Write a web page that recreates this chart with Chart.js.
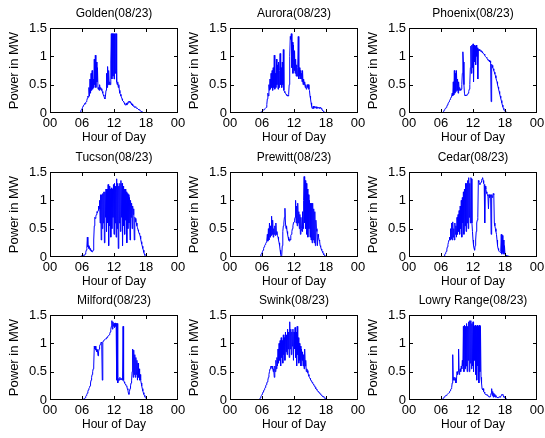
<!DOCTYPE html>
<html>
<head>
  <title>Power in MW by site</title>
  <meta charset="UTF-8">
  <script src="https://cdn.jsdelivr.net/npm/chart.js"></script>
  <style>
    body {
      margin: 0;
      background: #fff;
    }

    #wrap {
      position: relative;
      width: 545px;
      height: 438px;
      overflow: hidden;
    }

    #wrap canvas {
      position: absolute;
    }
  </style>
</head>
<body>
  <div id="wrap"></div>

  <script>
    const sites = ['Golden', 'Aurora', 'Phoenix', 'Tucson', 'Prewitt', 'Cedar', 'Milford', 'Swink', 'Lowry Range'];
    const dayLabel = '(08/23)';
    const hourTicks = [0, 6, 12, 18, 24];
    const hourLabels = ['00', '06', '12', '18', '00'];
    const powerTicks = [0, 0.5, 1, 1.5];

    // samples every 0.1 h, first sample at the start hour of each site
    const sampleStep = 0.1;
    const startHours = [5.6, 5.6, 6.2, 5.6, 5.6, 6.5, 5.8, 5.5, 6.1];

    const golden = [0, 0.02, 0.04, 0.06, 0.08, 0.1, 0.12, 0.14, 0.15, 0.17,
      0.16, 0.19, 0.2, 0.22, 0.26, 0.3, 0.28, 0.45, 0.3, 0.6,
      0.35, 0.7, 0.4, 0.75, 0.42, 0.6, 0.45, 0.95, 0.5, 1.02,
      0.45, 0.9, 0.55, 0.8, 0.42, 0.45, 0.4, 0.5, 0.42, 0.45,
      0.4, 0.43, 0.38, 0.35, 0.32, 0.3, 0.27, 0.25, 0.3, 0.4,
      0.7, 0.45, 0.82, 0.5, 0.75, 0.5, 0.55, 0.5, 0.9, 1.4,
      0.6, 1.4, 0.65, 1.4, 0.6, 1.4, 0.7, 1.4, 1.4, 0.55,
      0.5, 0.55, 0.45, 0.5, 0.4, 0.35, 0.33, 0.3, 0.28, 0.25,
      0.22, 0.21, 0.2, 0.18, 0.16, 0.14, 0.15, 0.17, 0.14, 0.18,
      0.17, 0.2, 0.19, 0.21, 0.18, 0.2, 0.17, 0.15, 0.16, 0.13,
      0.12, 0.13, 0.11, 0.1, 0.11, 0.1, 0.09, 0.08, 0.08, 0.07,
      0.06, 0.06, 0.05, 0.04, 0.04, 0.03, 0.03, 0.02, 0.02, 0.01,
      0.01, 0, 0];

    const aurora = [0, 0.01, 0.02, 0.02, 0.03, 0.04, 0.05, 0.05, 0.06, 0.07,
      0.08, 0.08, 0.1, 0.15, 0.25, 0.35, 0.3, 0.5, 0.4, 0.6,
      0.42, 0.7, 0.45, 0.75, 0.4, 0.8, 0.45, 1.02, 0.42, 0.7,
      0.45, 0.95, 0.5, 0.85, 0.42, 0.9, 0.45, 0.75, 1.05, 0.5,
      0.8, 0.45, 0.9, 0.5, 1.12, 0.4, 0.38, 0.36, 0.35, 0.33,
      0.32, 0.3, 0.32, 0.3, 0.33, 0.5, 1.0, 1.35, 1.3, 1.4,
      0.8, 1.25, 0.7, 1.2, 0.75, 1.1, 0.7, 0.95, 0.65, 0.85,
      0.65, 0.8, 1.35, 0.6, 0.8, 0.65, 0.75, 0.6, 0.7, 0.55,
      0.75, 0.5, 0.6, 0.5, 0.55, 0.45, 0.5, 0.42, 0.45, 0.5,
      0.45, 0.5, 0.42, 0.4, 0.3, 0.25, 0.18, 0.12, 0.08, 0.1,
      0.12, 0.08, 0.1, 0.12, 0.09, 0.1, 0.11, 0.08, 0.1, 0.09,
      0.1, 0.08, 0.1, 0.09, 0.1, 0.07, 0.08, 0.05, 0.04, 0.03,
      0.02, 0.01, 0];

    const phoenix = [0, 0.01, 0.02, 0.03, 0.05, 0.06, 0.08, 0.09, 0.1, 0.12,
      0.14, 0.16, 0.18, 0.2, 0.22, 0.24, 0.26, 0.28, 0.3, 0.35,
      0.3, 0.55, 0.32, 0.75, 0.35, 0.7, 0.38, 0.75, 0.4, 0.6,
      0.35, 0.55, 0.4, 0.45, 0.42, 0.4, 0.42, 0.5, 0.7, 1.08,
      0.9, 0.5, 0.35, 0.3, 0.3, 0.32, 0.31, 0.32, 0.33, 0.35,
      0.38, 0.42, 0.5, 0.8, 1.18, 0.7, 1.2, 0.8, 1.22, 0.55,
      1.2, 0.9, 1.18, 0.85, 1.2, 1.0, 1.15, 0.6, 1.12, 1.1,
      1.12, 1.1, 1.1, 1.08, 1.1, 1.08, 1.06, 1.05, 1.05, 1.04,
      1.02, 1.0, 1.0, 0.98, 0.97, 0.95, 0.94, 0.92, 0.93, 0.9,
      0.92, 0.88, 0.2, 0.86, 0.84, 0.8, 0.78, 0.75, 0.72, 0.69,
      0.66, 0.62, 0.58, 0.55, 0.5, 0.46, 0.42, 0.38, 0.34, 0.3,
      0.26, 0.22, 0.18, 0.14, 0.11, 0.08, 0.06, 0.04, 0.03, 0.02,
      0.02, 0.01, 0.01, 0, 0];

    const tucson = [0, 0.01, 0.01, 0.02, 0.02, 0.02, 0.03, 0.03, 0.03, 0.04,
      0.05, 0.08, 0.12, 0.15, 0.35, 0.18, 0.2, 0.15, 0.18, 0.12,
      0.15, 0.1, 0.12, 0.09, 0.1, 0.12, 0.3, 0.55, 0.7, 0.68,
      0.72, 0.75, 0.8, 0.78, 0.82, 0.9, 0.85, 1.0, 0.6, 1.1,
      0.3, 1.1, 0.5, 1.12, 0.6, 1.15, 0.25, 1.15, 0.7, 1.2,
      0.45, 1.2, 0.6, 1.28, 0.2, 1.25, 0.55, 1.2, 0.35, 1.22,
      0.5, 1.2, 0.7, 1.28, 0.4, 1.3, 0.6, 1.25, 0.35, 1.38,
      0.5, 1.3, 0.15, 1.25, 0.6, 1.3, 0.45, 1.35, 0.7, 1.3,
      0.2, 1.25, 0.55, 1.2, 0.4, 1.2, 0.65, 1.15, 0.25, 1.12,
      0.5, 1.1, 0.6, 1.05, 0.3, 1.0, 0.7, 0.95, 0.5, 0.9,
      0.75, 0.85, 0.3, 0.7, 0.68, 0.62, 0.6, 0.55, 0.52, 0.48,
      0.45, 0.42, 0.4, 0.37, 0.32, 0.27, 0.23, 0.19, 0.15, 0.12,
      0.08, 0.05, 0.03, 0.01, 0];

    const prewitt = [0, 0.02, 0.04, 0.06, 0.08, 0.1, 0.12, 0.15, 0.18, 0.2,
      0.22, 0.24, 0.26, 0.3, 0.4, 0.28, 0.5, 0.3, 0.6, 0.35,
      0.55, 0.38, 0.72, 0.4, 0.65, 0.35, 0.5, 0.4, 0.55, 0.38,
      0.6, 0.4, 0.45, 0.38, 0.35, 0.3, 0.25, 0.2, 0.12, 0.05,
      0, 0.02, 0.2, 0.45, 0.55, 0.6, 0.7, 0.86, 0.6, 0.5,
      0.55, 0.45, 0.4, 0.35, 0.3, 0.28, 0.32, 0.3, 0.38, 0.4,
      0.45, 0.5, 0.55, 0.6, 0.62, 0.65, 0.7, 1.0, 0.6, 0.9,
      0.55, 0.95, 0.6, 0.8, 0.5, 0.75, 0.4, 0.7, 0.5, 0.45,
      0.8, 0.5, 1.0, 1.42, 0.6, 1.35, 0.5, 1.3, 0.4, 1.2,
      0.35, 1.1, 0.5, 1.0, 0.35, 0.95, 0.3, 0.95, 0.25, 0.95,
      0.3, 0.85, 0.25, 0.8, 0.2, 0.65, 0.5, 0.45, 0.2, 0.4,
      0.35, 0.3, 0.28, 0.2, 0.18, 0.14, 0.12, 0.1, 0.08, 0.06,
      0.04, 0.03, 0.02, 0.01, 0];

    const cedar = [0, 0.02, 0.04, 0.06, 0.08, 0.1, 0.14, 0.18, 0.22, 0.26,
      0.3, 0.35, 0.3, 0.5, 0.32, 0.6, 0.3, 0.62, 0.35, 0.5,
      0.3, 0.6, 0.4, 0.55, 0.35, 0.7, 0.4, 0.75, 0.45, 0.82,
      0.4, 0.9, 0.5, 1.0, 0.35, 1.05, 0.6, 1.15, 0.4, 1.2,
      0.55, 1.3, 0.45, 1.3, 0.6, 1.35, 0.5, 1.4, 0.7, 1.3,
      0.6, 1.4, 1.38, 0.6, 0.45, 0.3, 0.2, 0.15, 0.12, 0.2,
      0.3, 0.45, 0.6, 0.65, 0.7, 1.35, 1.32, 1.3, 1.28, 1.3,
      1.32, 1.35, 1.38, 1.4, 1.35, 1.3, 1.28, 0.6, 1.25, 1.2,
      1.15, 1.12, 1.1, 1.08, 0.85, 1.1, 1.05, 1.08, 1.1, 0.4,
      1.1, 1.05, 1.08, 1.12, 1.1, 0.6, 0.55, 0.5, 0.45, 0.4,
      0.3, 0.2, 0.15, 0.12, 0.1, 0.1, 0.08, 0.1, 0.4, 0.05,
      0.38, 0.08, 0.3, 0.05, 0.2, 0.05, 0.04, 0.03, 0.03, 0.02,
      0.02, 0.02, 0.01, 0.01, 0.01, 0];

    const milford = [0, 0.005, 0.01, 0.01, 0.01, 0.02, 0.02, 0.03, 0.04, 0.06,
      0.08, 0.1, 0.12, 0.15, 0.18, 0.2, 0.22, 0.25, 0.3, 0.35,
      0.4, 0.45, 0.5, 0.55, 0.6, 0.95, 0.9, 0.95, 0.88, 0.9,
      0.85, 0.88, 0.78, 0.85, 0.9, 0.95, 0.98, 1.0, 1.02, 1.0,
      0.35, 1.02, 1.04, 1.05, 1.06, 1.07, 1.08, 1.08, 1.1, 1.1,
      1.12, 1.13, 1.14, 1.15, 1.17, 1.2, 1.25, 1.3, 1.4, 1.25,
      1.38, 1.3, 1.35, 1.28, 1.36, 1.3, 1.35, 0.35, 1.35, 0.3,
      0.35, 0.38, 0.35, 0.4, 0.37, 0.36, 0.38, 0.35, 0.37, 1.3,
      0.35, 0.32, 0.3, 0.28, 0.27, 0.25, 0.24, 0.2, 0.18, 0.12,
      0.1, 0.15, 0.2, 0.25, 0.3, 0.35, 0.5, 0.9, 0.4, 0.88,
      0.45, 0.8, 0.4, 0.75, 0.45, 0.7, 0.35, 0.65, 0.4, 0.55,
      0.35, 0.45, 0.35, 0.3, 0.25, 0.2, 0.16, 0.13, 0.1, 0.08,
      0.06, 0.04, 0.03, 0.02, 0.01, 0];

    const swink = [0, 0.02, 0.04, 0.06, 0.08, 0.1, 0.12, 0.14, 0.16, 0.18,
      0.2, 0.22, 0.25, 0.27, 0.3, 0.32, 0.35, 0.4, 0.45, 0.5,
      0.55, 0.58, 0.6, 0.58, 0.55, 0.6, 0.5, 0.55, 0.4, 0.6,
      0.5, 0.7, 0.55, 0.75, 0.6, 0.9, 0.65, 1.0, 0.7, 1.05,
      0.6, 1.1, 0.75, 1.05, 0.65, 1.15, 0.8, 1.1, 0.7, 1.2,
      0.85, 1.15, 0.8, 1.25, 0.9, 1.2, 0.75, 1.38, 0.9, 1.25,
      0.8, 1.2, 0.95, 1.25, 0.7, 1.2, 0.9, 1.28, 0.75, 1.2,
      0.6, 1.3, 0.8, 1.1, 0.65, 1.0, 0.7, 0.95, 0.6, 0.9,
      0.7, 0.85, 0.6, 0.8, 0.55, 0.9, 0.6, 0.7, 0.5, 0.55,
      0.52, 0.48, 0.45, 0.42, 0.4, 0.38, 0.36, 0.34, 0.33, 0.31,
      0.3, 0.28, 0.27, 0.25, 0.24, 0.22, 0.2, 0.19, 0.18, 0.16,
      0.15, 0.14, 0.13, 0.12, 0.11, 0.1, 0.09, 0.08, 0.07, 0.06,
      0.06, 0.05, 0.04, 0.03, 0.02, 0.02, 0.01, 0];

    const lowryRange = [0, 0.01, 0.02, 0.03, 0.04, 0.05, 0.06, 0.07, 0.08, 0.08,
      0.09, 0.1, 0.1, 0.12, 0.13, 0.15, 0.16, 0.18, 0.2, 0.22,
      0.3, 0.8, 0.35, 0.4, 0.35, 0.4, 0.38, 0.3, 0.35, 0.5,
      0.45, 0.5, 0.9, 0.45, 0.5, 0.55, 0.5, 0.6, 0.55, 0.7,
      0.6, 1.3, 0.5, 1.32, 0.55, 1.3, 0.6, 1.35, 0.5, 1.3,
      0.7, 1.38, 0.5, 1.4, 0.65, 1.4, 0.55, 1.35, 0.6, 1.38,
      0.5, 1.3, 0.7, 1.32, 0.45, 1.3, 0.35, 1.32, 0.6, 1.3,
      0.3, 1.32, 0.5, 1.3, 0.4, 0.3, 0.2, 0.18, 0.2, 0.15,
      0.14, 0.12, 0.1, 0.1, 0.09, 0.1, 0.08, 0.07, 0.06, 0.06,
      0.05, 0.06, 0.08, 0.12, 0.2, 0.08, 0.15, 0.05, 0.12, 0.06,
      0.1, 0.05, 0.08, 0.05, 0.05, 0.04, 0.04, 0.05, 0.05, 0.06,
      0.05, 0.07, 0.08, 0.1, 0.09, 0.1, 0.07, 0.05, 0.04, 0.04,
      0.03, 0.02, 0.02, 0.01, 0.01, 0];

    const siteSeries = [golden, aurora, phoenix, tucson, prewitt, cedar, milford, swink, lowryRange];

    // panel placement (plot area corners) in the 545x438 page
    const colLeft = [50, 230, 409];
    const rowTop = [28, 172, 315];
    const plotW = 128;
    const plotH = 85;
    const axisW = 46;
    const titleH = 24;
    const xAxisH = 36;
    const rightPad = 12;

    const black = '#000';
    const lineBlue = '#0000ff';
    const fontName = '"Liberation Sans", Arial, sans-serif';

    // box round the plot area with inward tick marks, like the original figure
    const boxPlugin = {
      id: 'box',
      afterDraw(chart) {
        const { ctx, chartArea: a, scales: { x, y } } = chart;
        const l = Math.round(a.left);
        const r = Math.round(a.right) - 1;
        const t = Math.round(a.top);
        const b = Math.round(a.bottom) - 1;
        ctx.save();
        ctx.fillStyle = black;
        ctx.fillRect(l, t, r - l + 1, 1);
        ctx.fillRect(l, b, r - l + 1, 1);
        ctx.fillRect(l, t, 1, b - t + 1);
        ctx.fillRect(r, t, 1, b - t + 1);
        x.ticks.forEach(tick => {
          const px = Math.min(Math.round(x.getPixelForValue(tick.value)), r);
          ctx.fillRect(px, b - 3, 1, 3);
          ctx.fillRect(px, t + 1, 1, 3);
        });
        y.ticks.forEach(tick => {
          const py = Math.min(Math.round(y.getPixelForValue(tick.value)), b);
          ctx.fillRect(l + 1, py, 3, 1);
          ctx.fillRect(r - 3, py, 3, 1);
        });
        ctx.restore();
      }
    };

    const wrap = document.getElementById('wrap');

    sites.forEach((site, i) => {
      const col = i % 3;
      const row = Math.floor(i / 3);
      const canvas = document.createElement('canvas');
      canvas.width = axisW + plotW + rightPad;
      canvas.height = titleH + plotH + xAxisH;
      canvas.style.left = (colLeft[col] - axisW) + 'px';
      canvas.style.top = (rowTop[row] - titleH) + 'px';
      wrap.appendChild(canvas);

      const start = startHours[i];
      const points = siteSeries[i].map((v, k) => ({ x: start + k * sampleStep, y: v }));

      new Chart(canvas.getContext('2d'), {
        type: 'line',
        data: {
          datasets: [{
            data: points,
            borderColor: lineBlue,
            borderWidth: 1,
            pointRadius: 0,
            tension: 0,
            fill: false
          }]
        },
        options: {
          responsive: false,
          animation: false,
          events: [],
          layout: { padding: { left: 0, right: rightPad, top: 0, bottom: 0 } },
          plugins: {
            legend: { display: false },
            tooltip: { enabled: false },
            title: {
              display: true,
              text: site + dayLabel,
              color: black,
              fullSize: false,
              font: { family: fontName, size: 12, weight: 'normal' },
              padding: { top: 2.8, bottom: 6.8 }
            }
          },
          scales: {
            x: {
              type: 'linear',
              min: 0,
              max: 24,
              grid: { display: false, drawTicks: false },
              border: { display: false },
              afterBuildTicks: scale => { scale.ticks = hourTicks.map(v => ({ value: v })); },
              afterFit: scale => { scale.height = xAxisH; },
              ticks: {
                color: black,
                padding: 3,
                maxRotation: 0,
                font: { family: fontName, size: 13 },
                callback: (value, index) => hourLabels[index]
              },
              title: {
                display: true,
                text: 'Hour of Day',
                color: black,
                font: { family: fontName, size: 12 },
                padding: { top: 0, bottom: 4 }
              }
            },
            y: {
              min: 0,
              max: 1.5,
              grid: { display: false, drawTicks: false },
              border: { display: false },
              afterBuildTicks: scale => { scale.ticks = powerTicks.map(v => ({ value: v })); },
              afterFit: scale => { scale.width = axisW; },
              ticks: {
                color: black,
                padding: 3,
                font: { family: fontName, size: 13 },
                callback: value => String(value)
              },
              title: {
                display: true,
                text: 'Power in MW',
                color: black,
                font: { family: fontName, size: 13 },
                padding: { top: 3, bottom: 0 }
              }
            }
          }
        },
        plugins: [boxPlugin]
      });
    });
  </script>
</body>
</html>
